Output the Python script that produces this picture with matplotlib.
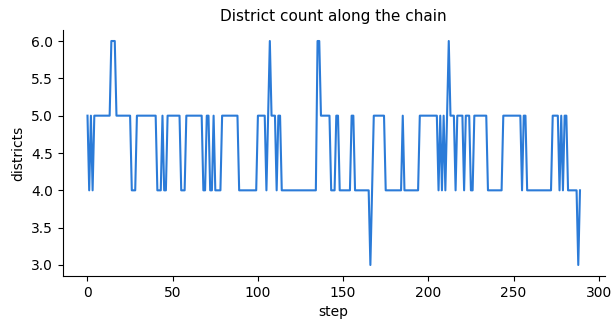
import matplotlib
matplotlib.use("Agg")
import matplotlib.pyplot as plt
import numpy as np

title = "District count along the chain"
x_label = "step"
y_label = "districts"

districts = [
    5, 4, 5, 4, 5, 5, 5, 5, 5, 5,
    5, 5, 5, 5, 6, 6, 6, 5, 5, 5,
    5, 5, 5, 5, 5, 5, 4, 4, 4, 5,
    5, 5, 5, 5, 5, 5, 5, 5, 5, 5,
    5, 4, 4, 4, 5, 4, 4, 5, 5, 5,
    5, 5, 5, 5, 5, 4, 4, 4, 5, 5,
    5, 5, 5, 5, 5, 5, 5, 5, 4, 4,
    5, 5, 4, 4, 5, 4, 4, 4, 4, 5,
    5, 5, 5, 5, 5, 5, 5, 5, 5, 4,
    4, 4, 4, 4, 4, 4, 4, 4, 4, 4,
    5, 5, 5, 5, 5, 4, 5, 6, 5, 5,
    5, 4, 5, 5, 4, 4, 4, 4, 4, 4,
    4, 4, 4, 4, 4, 4, 4, 4, 4, 4,
    4, 4, 4, 4, 4, 6, 6, 5, 5, 5,
    5, 5, 5, 4, 4, 4, 5, 5, 4, 4,
    4, 4, 4, 4, 4, 5, 5, 4, 4, 4,
    4, 4, 4, 4, 4, 4, 3, 4, 5, 5,
    5, 5, 5, 5, 5, 4, 4, 4, 4, 4,
    4, 4, 4, 4, 4, 5, 4, 4, 4, 4,
    4, 4, 4, 4, 4, 5, 5, 5, 5, 5,
    5, 5, 5, 5, 5, 5, 4, 5, 4, 5,
    4, 5, 6, 5, 5, 5, 4, 5, 5, 5,
    5, 4, 5, 5, 5, 4, 4, 5, 5, 5,
    5, 5, 5, 5, 5, 4, 4, 4, 4, 4,
    4, 4, 4, 4, 5, 5, 5, 5, 5, 5,
    5, 5, 5, 5, 5, 4, 5, 5, 4, 4,
    4, 4, 4, 4, 4, 4, 4, 4, 4, 4,
    4, 4, 4, 5, 5, 5, 5, 4, 5, 4,
    5, 5, 4, 4, 4, 4, 4, 4, 3, 4,
]
steps = list(range(len(districts)))

fig = plt.figure(figsize=(6.14, 3.29), dpi=100)
ax = fig.add_axes([0.1024, 0.1605, 0.8823, 0.7489])
ax.plot(steps, districts, color="#2b7bd8", linewidth=1.5)
ax.set_title(title, fontsize=11)
ax.set_xlabel(x_label, fontsize=10)
ax.set_ylabel(y_label, fontsize=10)
ax.set_xticks([0, 50, 100, 150, 200, 250, 300])
ax.set_yticks([3.0, 3.5, 4.0, 4.5, 5.0, 5.5, 6.0])
ax.set_yticklabels(["3.0", "3.5", "4.0", "4.5", "5.0", "5.5", "6.0"])
ax.spines["top"].set_visible(False)
ax.spines["right"].set_visible(False)
fig.savefig("out.png", dpi=100)
